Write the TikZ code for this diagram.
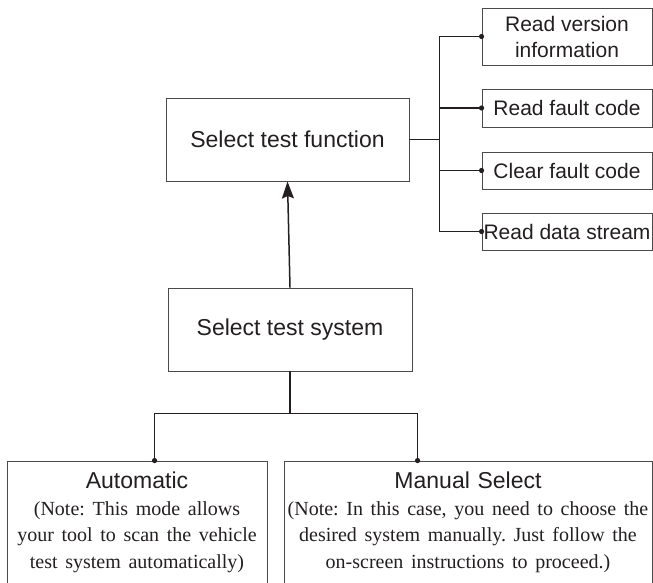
\documentclass[tikz,border=0pt]{standalone}
\usepackage{fontspec}
\setmainfont{Liberation Serif}
\setsansfont{Liberation Sans}
\usepackage{xcolor}
\definecolor{inkgray}{HTML}{231F20}
\definecolor{boxgray}{HTML}{4A4A4A}
\usetikzlibrary{arrows.meta,calc}
\frenchspacing

\begin{document}
\begin{tikzpicture}[x=1pt,y=-1pt,>={Stealth[length=17pt,width=12pt,inset=2.5pt]},line width=1.3pt,color=inkgray]
              \tikzstyle{block}=[draw=boxgray,line width=0.9pt,text=inkgray,inner sep=0pt,font=\sffamily\fontsize{23}{27}\selectfont]
              \tikzstyle{item}=[block,minimum width=170pt,align=center,font=\sffamily\fontsize{21}{26}\selectfont]
              \tikzstyle{mode}=[block,align=center,minimum height=123pt]
              \tikzstyle{link}=[draw=inkgray,line width=1.5pt]
              \newcommand{\notefont}{\rmfamily\fontsize{20}{26.5}\selectfont}

              \useasboundingbox (0,0) rectangle (653,582);
              \clip (0,0) rectangle (653,582);

              \node[block,minimum width=243pt,minimum height=83pt] (func) at (287.5,139.5) {Select test function};
              \node[block,minimum width=244pt,minimum height=83pt] (sys)  at (290,329.5)   {Select test system};

              \node[item,minimum height=57pt] (ver)    at (567,36.5)  {Read version\\information};
              \node[item,minimum height=38pt] (fault)  at (567,108)   {Read fault code};
              \node[item,minimum height=37pt] (clear)  at (567,170.5) {Clear fault code};
              \node[item,minimum height=37pt] (stream) at (567,231.5) {Read data stream};

              \node[mode,minimum width=260pt,text width=256pt] (auto) at (137,522.5)
                {Automatic\\\notefont (Note: This mode allows\\your tool to scan the vehicle\\test system automatically)};
              \node[mode,minimum width=368pt,text width=364pt] (man)  at (468,522.5)
                {Manual Select\\\notefont (Note: In this case, you need to choose the\\desired system manually. Just follow the\\on-screen instructions to proceed.)};

              % functions on the right
              \coordinate (hub) at ($(func.east)+(30,0)$);
              \draw[link] (func.east) -- (hub);
              \draw[link] (hub |- ver.west) -- (hub |- stream.west);
              \foreach \n in {ver,fault,clear,stream}{
                \draw[link] (hub |- \n.west) -- (\n.west);
                \fill (\n.west) circle (2.6pt);
              }

              \draw[link,->] (sys.north) -- (func.south);

              % the two modes
              \coordinate (split) at ($(sys.south)+(0,42)$);
              \draw[link] (sys.south) -- (split);
              \draw[link] ([xshift=148pt]auto.north west) |- (split) -| ([xshift=134pt]man.north west);
              \fill ([xshift=148pt]auto.north west) circle (2.6pt);
              \fill ([xshift=134pt]man.north west) circle (2.6pt);
\end{tikzpicture}
\end{document}
